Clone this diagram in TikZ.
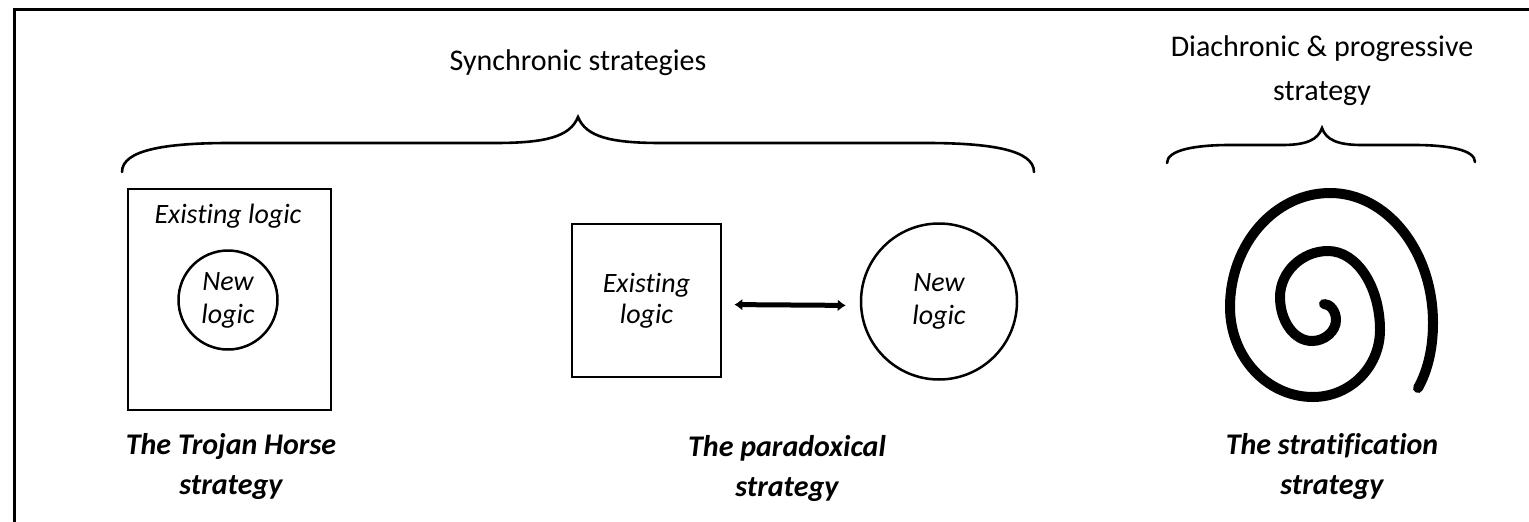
\documentclass[tikz,border=0pt]{standalone}
\usepackage{fontspec}
\setmainfont{Carlito}[Ligatures=NoCommon]
\usetikzlibrary{arrows.meta}
\begin{document}
\begin{tikzpicture}[x=1pt,y=-1pt,
  frameline/.style={line width=3pt},
  bracepath/.style={line width=2.6pt,line cap=round},
  boxshape/.style={draw,line width=2.8pt,inner sep=0pt},
  circshape/.style={draw,circle,line width=2.5pt,inner sep=0pt,align=center,font=\fontsize{28}{33}\selectfont\itshape},
  headtext/.style={inner sep=0pt,align=center,font=\fontsize{30}{44}\selectfont},
  itext/.style={inner sep=0pt,align=center,font=\fontsize{28}{32}\selectfont\itshape},
  labtext/.style={inner sep=0pt,align=center,font=\fontsize{30}{40}\selectfont\bfseries\itshape},
  dblarrow/.style={line width=5pt,{Latex[length=8pt,width=12pt]}-{Latex[length=8pt,width=12pt]}},
  spiralline/.style={line width=10pt,line cap=round}]
\useasboundingbox (0,0) rectangle (1529,522);
% frame
\draw[frameline] (14,524) -- (14,9) -- (1531,9);

% headings
\node[headtext] (sync) at (578,63) {Synchronic strategies};
\node[headtext] (dia) at (1322,71) {Diachronic \& progressive\\strategy};

% big brace
\draw[bracepath] (122,172) .. controls (122,150) and (165,143) .. (230,143)
  -- (495,143) .. controls (545,143) and (570,137) .. (578,117)
  .. controls (586,137) and (611,143) .. (661,143)
  -- (926,143) .. controls (991,143) and (1034,150) .. (1034,172);
% small brace
\draw[bracepath] (1167,163) .. controls (1167,150) and (1195,145) .. (1230,145)
  -- (1282,145) .. controls (1306,145) and (1318,140) .. (1322,128)
  .. controls (1326,140) and (1338,145) .. (1362,145)
  -- (1414,145) .. controls (1449,145) and (1475,150) .. (1475,162);

% Trojan horse
\node[boxshape,minimum width=203pt,minimum height=221pt] (tbox) at (229.5,299.5) {};
\node[itext] (texist) at (228,216) {Existing logic};
\node[circshape,minimum size=99pt] (tnew) at (228,300) {New\\logic};

% paradoxical
\node[boxshape,minimum width=149pt,minimum height=153pt,align=center,font=\fontsize{28}{31}\selectfont\itshape] (pbox) at (646.5,300.5) {Existing\\logic};
\node[circshape,minimum size=156pt] (pnew) at (939,301.5) {New\\logic};
\draw[dblarrow,shorten <=12pt,shorten >=14pt] ([yshift=-4pt]pbox.east) -- ([yshift=-4pt]pnew.west);

% spiral
\coordinate (sstart) at (1324,304);
\coordinate (send) at (1418,388);
\draw[spiralline] (sstart)
  .. controls (1330,304) and (1336,311) .. (1336,320)
  .. controls (1336,331) and (1325,341) .. (1312,341)
  .. controls (1294,341) and (1280,321) .. (1280,297)
  .. controls (1280,272) and (1302,251) .. (1328,251)
  .. controls (1357,251) and (1380,287) .. (1380,330)
  .. controls (1380,367) and (1350,397) .. (1313,397)
  .. controls (1267,397) and (1230,357) .. (1230,307)
  .. controls (1230,244) and (1275,193) .. (1330,193)
  .. controls (1387,193) and (1433,251) .. (1433,323)
  .. controls (1433,350) and (1427,372) .. (send);

% labels
\node[labtext] (l1) at (231,466) {The Trojan Horse\\strategy};
\node[labtext] (l2) at (787,468) {The paradoxical\\strategy};
\node[labtext] (l3) at (1332,466) {The stratification\\strategy};
\end{tikzpicture}
\end{document}
